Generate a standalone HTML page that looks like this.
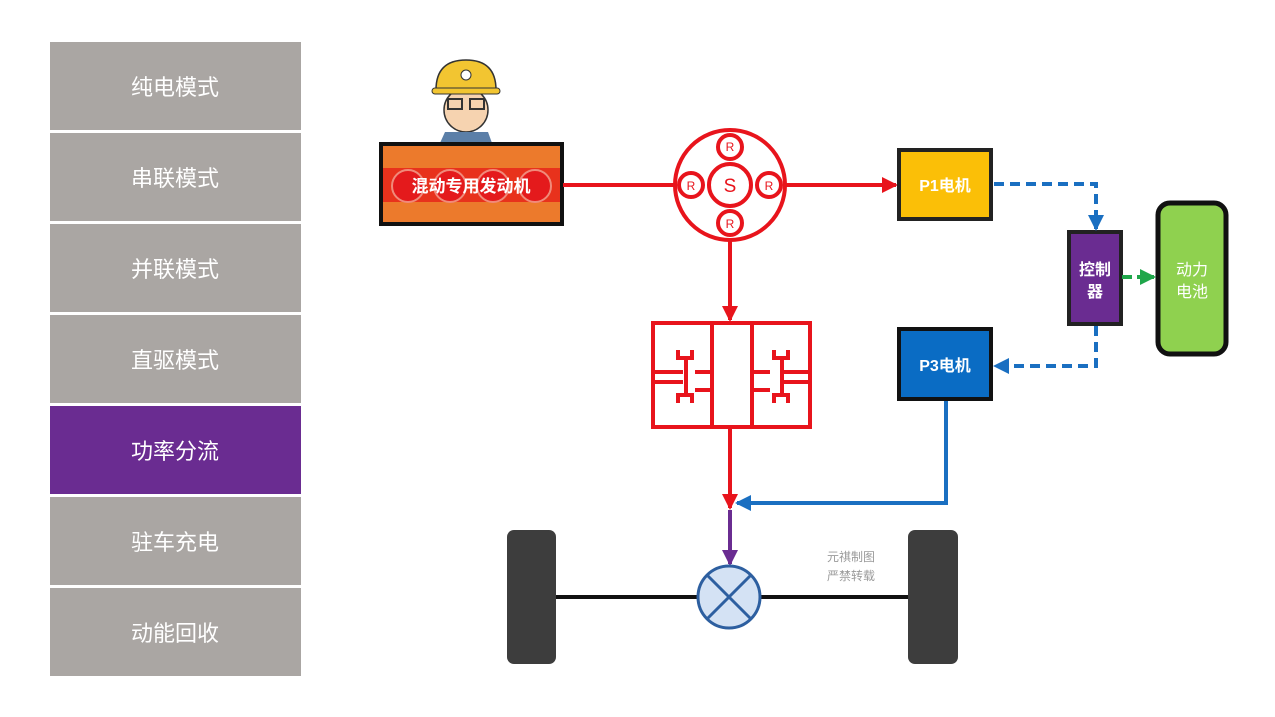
<!DOCTYPE html>
<html><head><meta charset="utf-8"><style>
html,body{margin:0;padding:0;background:#fff;width:1275px;height:717px;overflow:hidden}
svg{display:block}
text{font-family:"Liberation Sans","Noto Sans CJK SC",sans-serif}
</style></head><body>
<svg width="1275" height="717" viewBox="0 0 1275 717">
<defs>
<marker id="ar" markerWidth="4" markerHeight="4" refX="3.5" refY="2" orient="auto" markerUnits="strokeWidth"><path d="M0,0 L4,2 L0,4 Z" fill="#e8141c"/></marker>
<marker id="ab" markerWidth="4" markerHeight="4" refX="3.5" refY="2" orient="auto" markerUnits="strokeWidth"><path d="M0,0 L4,2 L0,4 Z" fill="#1a6fc1"/></marker>
<marker id="ag" markerWidth="4" markerHeight="4" refX="3.5" refY="2" orient="auto" markerUnits="strokeWidth"><path d="M0,0 L4,2 L0,4 Z" fill="#1fa64a"/></marker>
<marker id="ap" markerWidth="4" markerHeight="4" refX="3.5" refY="2" orient="auto" markerUnits="strokeWidth"><path d="M0,0 L4,2 L0,4 Z" fill="#6a2c91"/></marker>
</defs>
<g font-size="22" text-anchor="middle">
<rect x="50" y="42" width="251" height="88" fill="#aaa6a3"/><text x="175" y="95" fill="#fff">纯电模式</text>
<rect x="50" y="133" width="251" height="88" fill="#aaa6a3"/><text x="175" y="186" fill="#fff">串联模式</text>
<rect x="50" y="224" width="251" height="88" fill="#aaa6a3"/><text x="175" y="277" fill="#fff">并联模式</text>
<rect x="50" y="315" width="251" height="88" fill="#aaa6a3"/><text x="175" y="368" fill="#fff">直驱模式</text>
<rect x="50" y="406" width="251" height="88" fill="#6a2c91"/><text x="175" y="459" fill="#fff">功率分流</text>
<rect x="50" y="497" width="251" height="88" fill="#aaa6a3"/><text x="175" y="550" fill="#fff">驻车充电</text>
<rect x="50" y="588" width="251" height="88" fill="#aaa6a3"/><text x="175" y="641" fill="#fff">动能回收</text>
</g>
<g>
<ellipse cx="466" cy="110" rx="22" ry="22" fill="#f6d3b0" stroke="#333" stroke-width="1.5"/>
<path d="M436,90 Q436,60 466,60 Q496,60 496,90 Z" fill="#f2c531" stroke="#333" stroke-width="1.5"/>
<rect x="432" y="88" width="68" height="6" rx="3" fill="#f2c531" stroke="#333"/>
<circle cx="466" cy="75" r="5" fill="#fff" stroke="#333"/>
<rect x="448" y="99" width="14" height="10" fill="none" stroke="#333" stroke-width="2"/>
<rect x="470" y="99" width="14" height="10" fill="none" stroke="#333" stroke-width="2"/>
<path d="M445,132 L488,132 L492,143 L440,143 Z" fill="#5b7fa8"/>
</g>
<rect x="381" y="144" width="181" height="80" fill="#ec7a2c" stroke="#111" stroke-width="4"/>
<rect x="383" y="168" width="177" height="34" fill="#e8321c"/>
<g fill="#e41a1c" stroke="#f08a7a" stroke-width="2"><circle cx="408" cy="186" r="16"/><circle cx="450" cy="186" r="16"/><circle cx="493" cy="186" r="16"/><circle cx="535" cy="186" r="16"/></g>
<text x="471" y="192" font-size="17" font-weight="bold" fill="#fff" text-anchor="middle">混动专用发动机</text>
<g stroke="#e8141c" stroke-width="4" fill="none">
<line x1="563" y1="185" x2="675" y2="185"/>
<line x1="785" y1="185" x2="896" y2="185" marker-end="url(#ar)"/>
<line x1="730" y1="240" x2="730" y2="320" marker-end="url(#ar)"/>
<line x1="730" y1="428" x2="730" y2="508" marker-end="url(#ar)"/>
<circle cx="730" cy="185" r="55"/>
<circle cx="730" cy="185" r="21"/>
<circle cx="730" cy="147" r="12"/><circle cx="730" cy="223" r="12"/>
<circle cx="691" cy="185" r="12"/><circle cx="769" cy="185" r="12"/>
</g>
<g fill="#e8141c" text-anchor="middle" font-size="12"><text x="730" y="151">R</text><text x="730" y="228">R</text><text x="691" y="190">R</text><text x="769" y="190">R</text><text x="730" y="192" font-size="19">S</text></g>
<g stroke="#e8141c" stroke-width="4" fill="none">
<rect x="653" y="323" width="157" height="104"/>
<line x1="712" y1="323" x2="712" y2="427"/><line x1="752" y1="323" x2="752" y2="427"/>
<path d="M653,372 H683 M712,372 H695 M653,382 H683 M712,390 H695"/>
<path d="M752,372 H770 M810,372 H782 M752,390 H770 M810,382 H782"/>
<path d="M678,350 V358 H686 V395 H678 V403 M692,350 V358 H686 M692,403 V395 H686"/>
<path d="M774,350 V358 H782 V395 H774 V403 M788,350 V358 H782 M788,403 V395 H782"/>
</g>
<rect x="899" y="150" width="92" height="69" fill="#fbbf07" stroke="#222" stroke-width="4"/>
<text x="945" y="191" font-size="16" font-weight="bold" fill="#fff" text-anchor="middle">P1电机</text>
<rect x="899" y="329" width="92" height="70" fill="#0a6cc4" stroke="#111" stroke-width="4"/>
<text x="945" y="371" font-size="16" font-weight="bold" fill="#fff" text-anchor="middle">P3电机</text>
<rect x="1069" y="232" width="52" height="92" fill="#6a2c91" stroke="#222" stroke-width="4"/>
<text x="1095" y="275" font-size="16" font-weight="bold" fill="#fff" text-anchor="middle">控制</text>
<text x="1095" y="297" font-size="16" font-weight="bold" fill="#fff" text-anchor="middle">器</text>
<rect x="1158" y="203" width="68" height="151" rx="12" fill="#8fd14f" stroke="#111" stroke-width="5"/>
<text x="1192" y="275" font-size="16" fill="#fff" text-anchor="middle">动力</text>
<text x="1192" y="297" font-size="16" fill="#fff" text-anchor="middle">电池</text>
<g stroke="#1a6fc1" stroke-width="4" fill="none" stroke-dasharray="10,6">
<polyline points="994,184 1096,184 1096,229" marker-end="url(#ab)"/>
<polyline points="1096,326 1096,366 995,366" marker-end="url(#ab)"/>
</g>
<line x1="1122" y1="277" x2="1154" y2="277" stroke="#1fa64a" stroke-width="4" stroke-dasharray="10,5" marker-end="url(#ag)"/>
<polyline points="946,401 946,503 737,503" stroke="#1a6fc1" stroke-width="4" fill="none" marker-end="url(#ab)"/>
<line x1="730" y1="510" x2="730" y2="564" stroke="#6a2c91" stroke-width="4" marker-end="url(#ap)"/>
<line x1="555" y1="597" x2="910" y2="597" stroke="#111" stroke-width="4"/>
<rect x="507" y="530" width="49" height="134" rx="7" fill="#3d3d3d"/>
<rect x="908" y="530" width="50" height="134" rx="7" fill="#3d3d3d"/>
<circle cx="729" cy="597" r="31" fill="#d4e2f4" stroke="#2d5fa0" stroke-width="3"/>
<path d="M707,575 L751,619 M751,575 L707,619" stroke="#2d5fa0" stroke-width="3"/>
<text x="827" y="561" font-size="12" fill="#9a9a9a">元祺制图</text>
<text x="827" y="580" font-size="12" fill="#9a9a9a">严禁转载</text>
</svg>
</body></html>
